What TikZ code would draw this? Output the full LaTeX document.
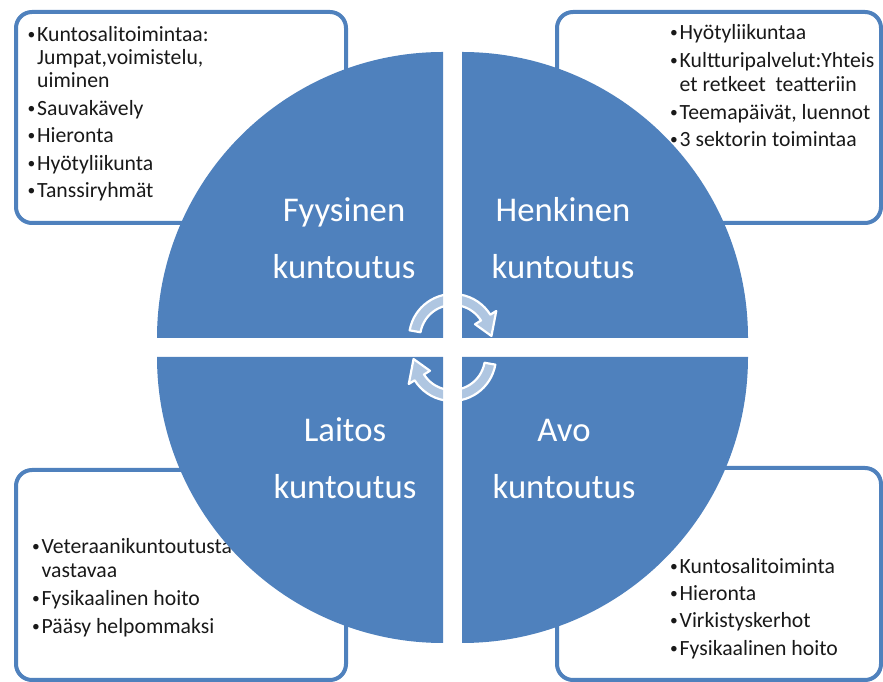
\documentclass[tikz,border=0pt]{standalone}
\usepackage{fontspec}
\setmainfont{Carlito}
\definecolor{accent}{HTML}{4F81BD}
\newcommand{\bul}{\makebox[10pt][l]{\hspace{0.5pt}\raisebox{2pt}{\fontsize{15.5}{15.5}\selectfont •}}}
\begin{document}
\begin{tikzpicture}[x=1pt,y=1pt,
  cornerbox/.style={draw=accent, line width=4pt, fill=white, rounded corners=16pt},
  quad/.style={fill=accent},
  itemtxt/.style={anchor=base west, inner sep=0pt, font=\fontsize{21.7}{23}\selectfont, text=black!90},
  lbl/.style={align=center, text=white, font=\fontsize{34.7}{57}\selectfont, inner sep=0pt},
  cyc/.style={fill=white, fill opacity=0.55, draw=white, line width=2.2pt, line join=round}]
\useasboundingbox (0,0) rectangle (883,682);

% corner boxes
\path[cornerbox] (16,459) rectangle (346,670);
\path[cornerbox] (557,459) rectangle (881,670);
\path[cornerbox] (16,2) rectangle (346,212);
\path[cornerbox] (557,2) rectangle (881,214);

% top-left list
\node[itemtxt] (tl1) at (27,640) {\bul Kuntosalitoimintaa:};
\node[itemtxt] (tl1b) at (37,617) {Jumpat,voimistelu,};
\node[itemtxt] (tl1c) at (37,594) {uiminen};
\node[itemtxt] (tl2) at (27,566.5) {\bul Sauvakävely};
\node[itemtxt] (tl3) at (27,539) {\bul Hieronta};
\node[itemtxt] (tl4) at (27,511.5) {\bul Hyötyliikunta};
\node[itemtxt] (tl5) at (27,484) {\bul Tanssiryhmät};

% top-right list
\node[itemtxt] (tr1) at (669.5,642) {\bul Hyötyliikuntaa};
\node[itemtxt] (tr2) at (669.5,614.5) {\bul Kultturipalvelut:Yhteis};
\node[itemtxt] (tr2b) at (679.5,590) {et retkeet\ \ teatteriin};
\node[itemtxt] (tr3) at (669.5,562.5) {\bul Teemapäivät, luennot};
\node[itemtxt] (tr4) at (669.5,535) {\bul 3 sektorin toimintaa};

% bottom-left list
\node[itemtxt] (bl1) at (31.5,128) {\bul Veteraanikuntoutusta};
\node[itemtxt] (bl1b) at (41.5,104) {vastavaa};
\node[itemtxt] (bl2) at (31.5,76) {\bul Fysikaalinen hoito};
\node[itemtxt] (bl3) at (31.5,48.5) {\bul Pääsy helpommaksi};

% bottom-right list
\node[itemtxt] (br1) at (669.5,108.5) {\bul Kuntosalitoiminta};
\node[itemtxt] (br2) at (669.5,81.5) {\bul Hieronta};
\node[itemtxt] (br3) at (669.5,54) {\bul Virkistyskerhot};
\node[itemtxt] (br4) at (669.5,26) {\bul Fysikaalinen hoito};

% quadrants
\fill[quad] (443,344) -- (157,344) arc[start angle=180,end angle=90,radius=286] -- cycle;
\fill[quad] (462,344) -- (462,630) arc[start angle=90,end angle=0,radius=286] -- cycle;
\fill[quad] (443,325) -- (157,325) arc[start angle=180,end angle=270,radius=286] -- cycle;
\fill[quad] (462,325) -- (748,325) arc[start angle=0,end angle=-90,radius=286] -- cycle;

% quadrant labels
\node[lbl] (fyys) at (344,444) {Fyysinen\\kuntoutus};
\node[lbl] (henk) at (563,444) {Henkinen\\kuntoutus};
\node[lbl] (lait) at (345,223.5) {Laitos\\kuntoutus};
\node[lbl] (avo) at (564,223.5) {Avo\\kuntoutus};

% cycle arrows
\coordinate (c1) at (453,344);
\coordinate (c2) at (452,325);
\begin{scope}[shift={(c1)}]
\draw[cyc] (170:44) arc[start angle=170,end angle=32,radius=44] -- (32:51) -- (3:38.5) -- (32:26) -- (32:33) arc[start angle=32,end angle=170,radius=33] -- cycle;
\end{scope}
\begin{scope}[shift={(c2)}]
\draw[cyc] (-10:44) arc[start angle=-10,end angle=-148,radius=44] -- (212:51) -- (183:38.5) -- (212:26) -- (212:33) arc[start angle=-148,end angle=-10,radius=33] -- cycle;
\end{scope}
\end{tikzpicture}
\end{document}
